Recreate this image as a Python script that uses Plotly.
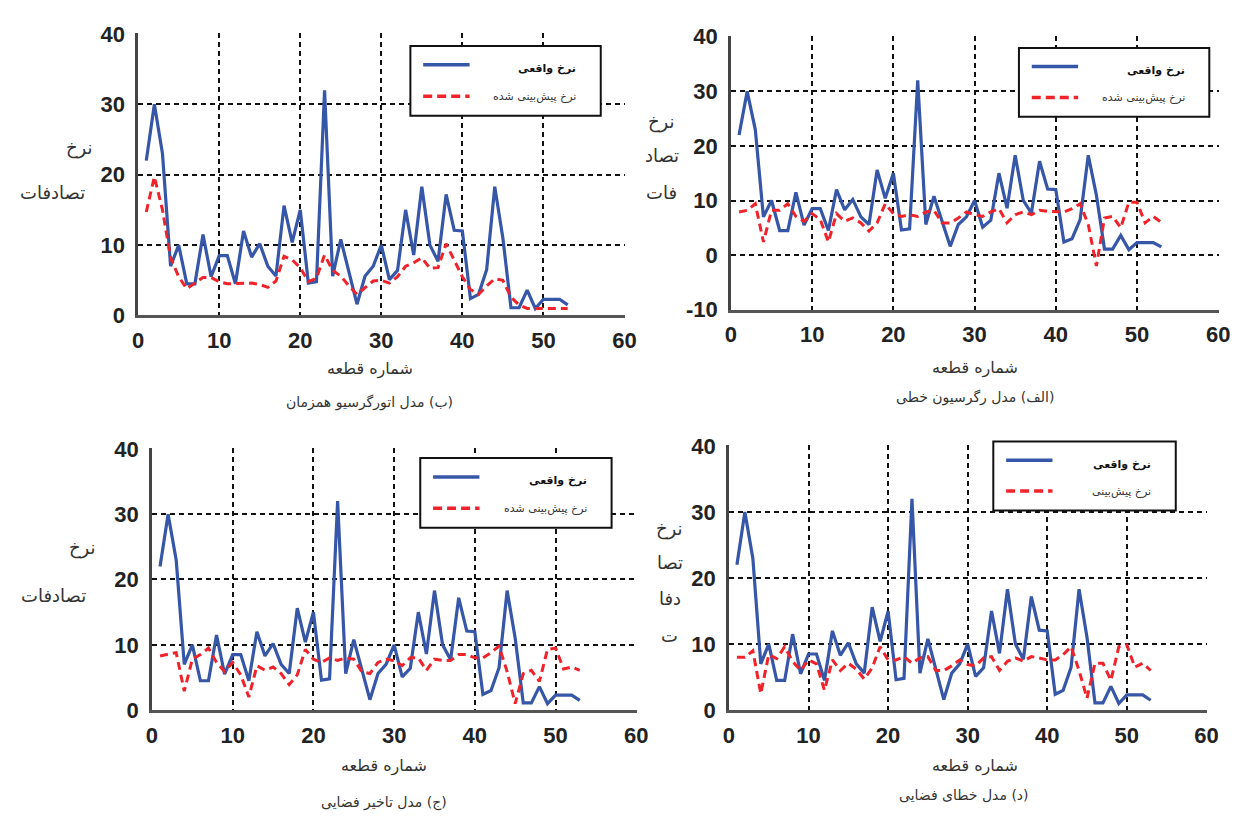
import plotly.graph_objects as go

# ---------------- data ----------------
segments = list(range(1, 54))
actual_rate = [22, 30, 23, 7, 10, 4.5, 4.5, 11.5, 5.5, 8.5,
               8.5, 4.5, 12, 8.3, 10.2, 7, 5.6, 15.6, 10.4, 15,
               4.6, 4.8, 32, 5.6, 10.8, 6, 1.6, 5.6, 7, 10,
               5.1, 6.4, 15, 8.6, 18.3, 10, 7.7, 17.2, 12.1, 12,
               2.4, 3, 6.5, 18.3, 11, 1.1, 1.1, 3.6, 1, 2.3,
               2.3, 2.3, 1.5]

pred_linear = [7.9, 8.2, 9.4, 2.4, 8.2, 8.2, 9.4, 7.1, 6.2, 7.6,
               6.5, 2.4, 7.6, 6.2, 6.8, 5.9, 4.4, 5.9, 9.4, 7.6,
               7.1, 7.4, 7.1, 7.9, 8.2, 5.9, 5.9, 6.8, 7.9, 7.4,
               7.1, 7.9, 8.5, 5.9, 7.4, 7.9, 7.4, 8.2, 8, 8,
               7.9, 8.5, 9.4, 5.6, -2, 6.8, 7.1, 5, 9.7, 9.7,
               5.9, 7.1, 6]

pred_sar = [14.7, 19.7, 15, 8.2, 5.5, 3.8, 4.6, 5.4, 5.4, 4.8,
            4.5, 4.5, 4.6, 4.6, 4.4, 4, 4.9, 8.4, 7.9, 6.8,
            4.8, 5.3, 8.6, 6.4, 5.6, 4.2, 3, 4, 4.9, 5,
            4.6, 5.5, 7, 7.5, 8.2, 6.7, 6.8, 10.2, 7.8, 5.5,
            3.7, 3, 4.2, 5.2, 5, 2.6, 1.5, 1, 1, 1,
            1, 1, 1]

pred_lag = [8.3, 8.5, 8.8, 2.9, 7.8, 8.5, 9.5, 7.3, 5.9, 7.3,
            5.4, 2, 6.8, 6.1, 6.6, 5.6, 3.9, 5.4, 9.3, 7.8,
            7.3, 8, 7.6, 8, 7.8, 5.9, 5.6, 7.3, 7.8, 7.6,
            6.8, 8, 8, 6.1, 7.8, 7.6, 7.6, 8.5, 8.5, 8,
            8, 8.8, 9.8, 5.9, 1, 5.6, 6.1, 4.4, 9.3, 9.5,
            6.3, 6.6, 6.1]

pred_err = [8, 8, 9, 2.5, 8.4, 7.8, 9.6, 7.4, 6, 7.6,
            7, 3, 7.6, 6, 7.1, 6.2, 4.7, 6.4, 9.6, 7.6,
            7.6, 8.1, 7.1, 7.9, 8.1, 6, 6, 6.7, 7.6, 6.9,
            6.7, 7.9, 8.1, 6, 7.4, 7.9, 7.4, 8.1, 7.9, 7.6,
            7.6, 8.4, 9.6, 6, 1.8, 7.1, 7.1, 4.5, 9.6, 9.9,
            6.5, 7.1, 6]

x_ticks = [0, 10, 20, 30, 40, 50, 60]
legend_actual = "نرخ واقعی"
legend_pred = "نرخ پیش‌بینی شده"
legend_pred_short = "نرخ پیش‌بینی"
x_title = "شماره قطعه"
captions = ["(ب) مدل اتورگرسیو همزمان", "(الف) مدل رگرسیون خطی",
            "(ج) مدل تاخیر فضایی", "(د) مدل خطای فضایی"]

# ---------------- layout helpers ----------------
W, H = 1242, 823
BLUE = "#3656a8"
RED = "#f0232b"
FA = "DejaVu Sans, Noto Sans, sans-serif"
RLE, PDF = "\u202B", "\u202C"


def px(xp):
    return xp / W


def py(yp):
    return 1 - yp / H


def rtl(s):
    return RLE + s + PDF


panels = [
    dict(pred=pred_sar, box=(134, 628, 22, 313), yr=[0, 40.08], yt=[0, 10, 20, 30, 40],
         leg=(410, 603, 35, 107), legtxt=legend_pred,
         ytitle=[("نرخ", 75, 140), ("تصادفات", 47, 186)],
         xt=(369, 368), cap=(369, 403, captions[0])),
    dict(pred=pred_linear, box=(735, 1230, 25, 307), yr=[-10, 40.1], yt=[-10, 0, 10, 20, 30, 40],
         leg=(1027, 1220, 37, 108), legtxt=legend_pred,
         ytitle=[("نرخ", 665, 113), ("تصاد", 665, 148), ("فات", 665, 186)],
         xt=(982, 367), cap=(982, 398, captions[1])),
    dict(pred=pred_lag, box=(148, 640, 450, 720), yr=[0, 40.08], yt=[0, 10, 20, 30, 40],
         leg=(420, 614, 460, 532), legtxt=legend_pred,
         ytitle=[("نرخ", 78, 553), ("تصادفات", 48, 602)],
         xt=(383, 778), cap=(383, 815, captions[2])),
    dict(pred=pred_err, box=(733, 1218, 447, 720), yr=[0, 40.08], yt=[0, 10, 20, 30, 40],
         leg=(1001, 1186, 443, 514), legtxt=legend_pred_short,
         ytitle=[("نرخ", 673, 533), ("تصا", 673, 568), ("دفا", 673, 605), ("ت", 673, 643)],
         xt=(982, 778), cap=(971, 808, captions[3])),
]

fig = go.Figure()
layout = dict(width=W, height=H, margin=dict(l=0, r=0, t=0, b=0),
              paper_bgcolor="white", plot_bgcolor="white", showlegend=False)
annotations = []
shapes = []

tickfont = dict(family="Liberation Sans, Arial, sans-serif", size=22, color="#222222", weight="bold")

for i, p in enumerate(panels, start=1):
    xa = "x" if i == 1 else f"x{i}"
    ya = "y" if i == 1 else f"y{i}"
    fig.add_trace(go.Scatter(x=segments, y=actual_rate, mode="lines", xaxis=xa, yaxis=ya,
                             line=dict(color=BLUE, width=3.2), name=legend_actual))
    fig.add_trace(go.Scatter(x=segments, y=p["pred"], mode="lines", xaxis=xa, yaxis=ya,
                             line=dict(color=RED, width=3, dash="8px,5px"), name=p["legtxt"]))
    x0, x1, y0, y1 = p["box"]
    key = "" if i == 1 else str(i)
    layout["xaxis" + key] = dict(domain=[px(x0), px(x1)], range=[0, 60.12], anchor=ya,
                                 tickvals=x_ticks, ticktext=[str(v) for v in x_ticks],
                                 showgrid=True, gridcolor="#111111", gridwidth=1.5, griddash="5px,4px",
                                 zeroline=False, showline=True, linecolor="#555555", linewidth=3,
                                 ticks="", tickfont=tickfont, ticklabelstandoff=3, fixedrange=True)
    layout["yaxis" + key] = dict(domain=[py(y1), py(y0)], range=p["yr"], anchor=xa,
                                 tickvals=p["yt"], ticktext=[str(v) for v in p["yt"]],
                                 showgrid=True, gridcolor="#111111", gridwidth=1.5, griddash="5px,4px",
                                 zeroline=False, showline=True, linecolor="#444444", linewidth=2.5,
                                 ticks="", tickfont=tickfont, ticklabelstandoff=6, fixedrange=True)
    # legend box
    lx0, lx1, ly0, ly1 = p["leg"]
    shapes.append(dict(type="rect", xref="paper", yref="paper", x0=px(lx0), x1=px(lx1),
                       y0=py(ly1), y1=py(ly0), line=dict(color="#111111", width=2),
                       fillcolor="white", layer="above"))
    ya1 = ly0 + (ly1 - ly0) * 0.27
    ya2 = ly0 + (ly1 - ly0) * 0.72
    shapes.append(dict(type="line", xref="paper", yref="paper", x0=px(lx0 + 13), x1=px(lx0 + 60),
                       y0=py(ya1), y1=py(ya1), line=dict(color=BLUE, width=3.5), layer="above"))
    shapes.append(dict(type="line", xref="paper", yref="paper", x0=px(lx0 + 13), x1=px(lx0 + 60),
                       y0=py(ya2), y1=py(ya2), line=dict(color=RED, width=3.5, dash="9px,5px"), layer="above"))
    annotations.append(dict(text=rtl(legend_actual), x=px(lx1 - 23), y=py(ya1 + 4), xref="paper", yref="paper",
                            xanchor="right", yanchor="middle", showarrow=False,
                            font=dict(family=FA, size=11, color="#111111", weight="bold")))
    annotations.append(dict(text=rtl(p["legtxt"]), x=px(lx1 - 23), y=py(ya2), xref="paper", yref="paper",
                            xanchor="right", yanchor="middle", showarrow=False,
                            font=dict(family=FA, size=11, color="#333333")))
    # y title pieces
    for txt, tx, ty in p["ytitle"]:
        annotations.append(dict(text=rtl(txt), x=px(tx), y=py(ty), xref="paper", yref="paper",
                                xanchor="center", yanchor="middle", showarrow=False,
                                font=dict(family=FA, size=18, color="#333333")))
    # x title and caption
    annotations.append(dict(text=rtl(x_title), x=px(p["xt"][0]), y=py(p["xt"][1]), xref="paper", yref="paper",
                            xanchor="center", yanchor="middle", showarrow=False,
                            font=dict(family=FA, size=16, color="#333333")))
    annotations.append(dict(text=rtl(p["cap"][2]), x=px(p["cap"][0]), y=py(p["cap"][1]), xref="paper", yref="paper",
                            xanchor="center", yanchor="middle", showarrow=False,
                            font=dict(family=FA, size=14, color="#333333")))

layout["annotations"] = annotations
layout["shapes"] = shapes
fig.update_layout(**layout)
fig.write_html("out.html", config={"displayModeBar": False},
               post_script="document.body.style.margin='0';document.body.style.padding='0';")
